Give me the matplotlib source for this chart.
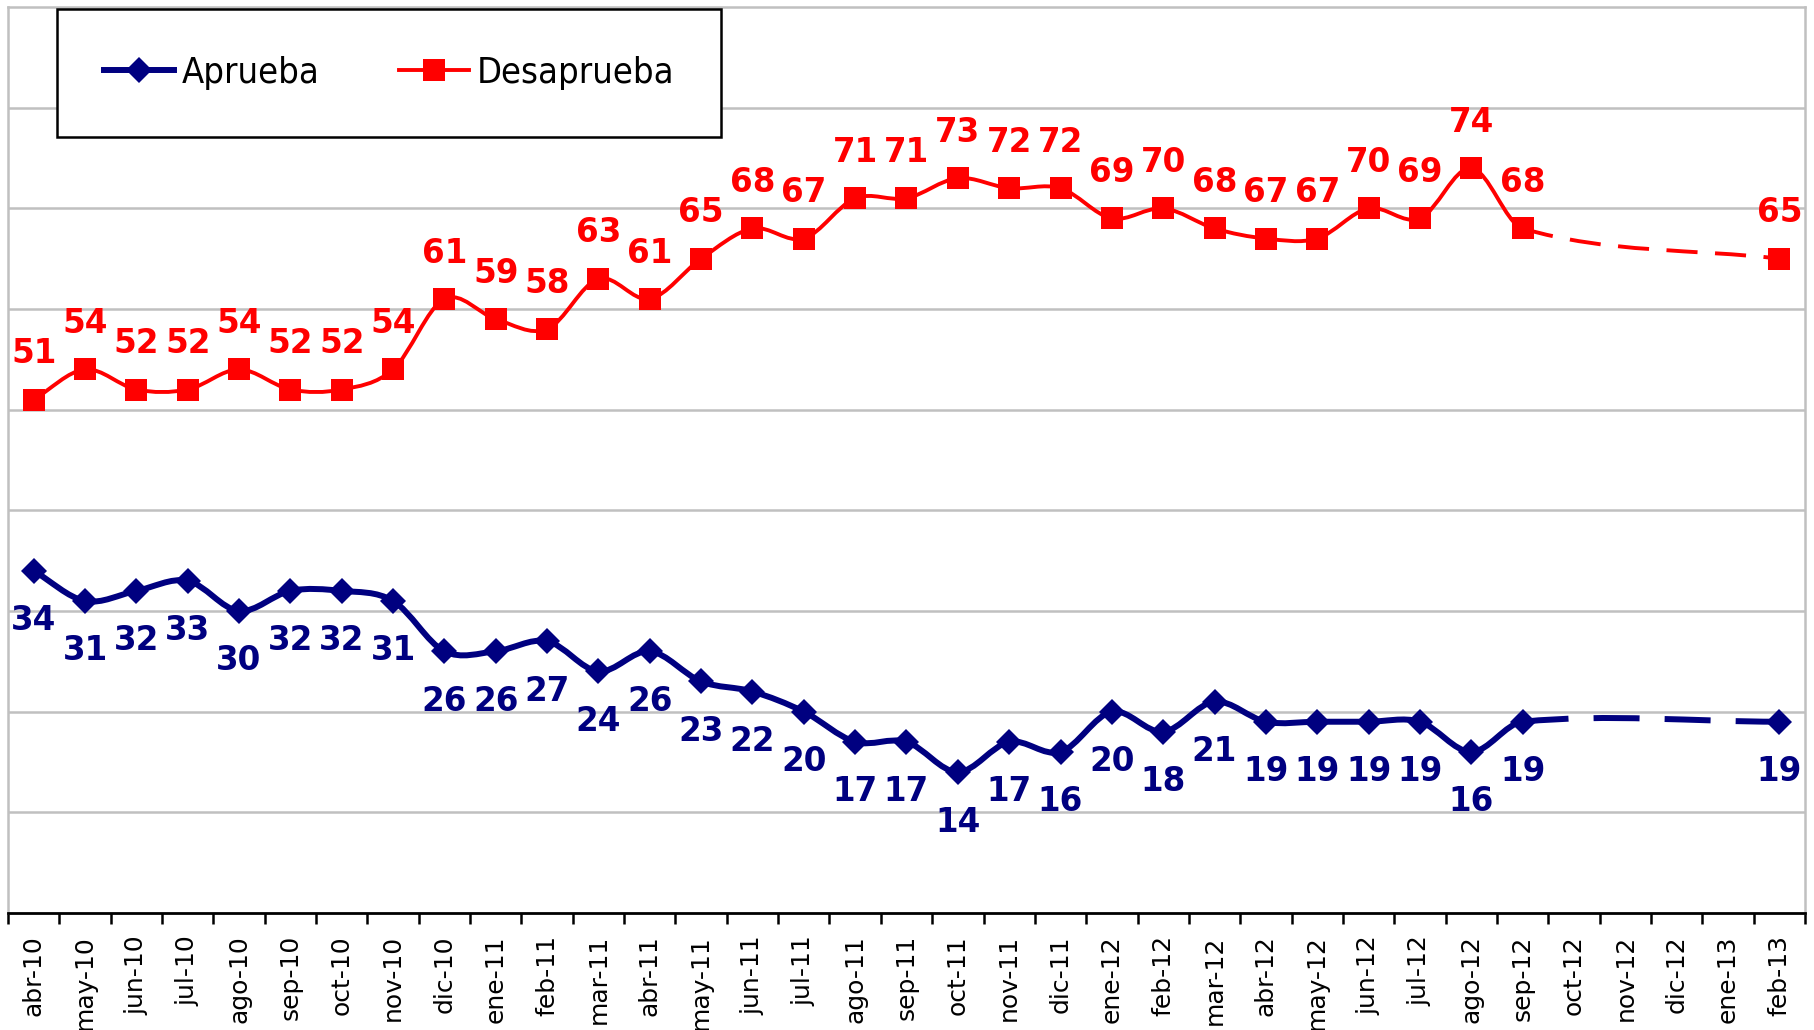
import matplotlib
matplotlib.use("Agg")
import matplotlib.pyplot as plt
import numpy as np
from matplotlib import font_manager
from matplotlib.path import Path
from matplotlib.patches import PathPatch
from matplotlib.lines import Line2D

# Meses del eje X
meses = ["abr-10", "may-10", "jun-10", "jul-10", "ago-10", "sep-10", "oct-10", "nov-10",
         "dic-10", "ene-11", "feb-11", "mar-11", "abr-11", "may-11", "jun-11", "jul-11",
         "ago-11", "sep-11", "oct-11", "nov-11", "dic-11", "ene-12", "feb-12", "mar-12",
         "abr-12", "may-12", "jun-12", "jul-12", "ago-12", "sep-12", "oct-12", "nov-12",
         "dic-12", "ene-13", "feb-13"]

# Meses con medicion (oct-12 a ene-13 sin dato)
medidos = meses[:30] + ["feb-13"]

aprueba = [34, 31, 32, 33, 30, 32, 32, 31, 26, 26, 27, 24, 26, 23, 22, 20, 17, 17, 14, 17,
           16, 20, 18, 21, 19, 19, 19, 19, 16, 19, 19]
desaprueba = [51, 54, 52, 52, 54, 52, 52, 54, 61, 59, 58, 63, 61, 65, 68, 67, 71, 71, 73, 72,
              72, 69, 70, 68, 67, 67, 70, 69, 74, 68, 65]

AZUL = "#000080"
ROJO = "#ff0000"
GRIS = "#c0c0c0"


def curva_suave(x, y):
    """Tramos Bezier con pendientes tipo Catmull-Rom (linea suavizada)."""
    x = np.asarray(x, float)
    y = np.asarray(y, float)
    n = len(x)
    m = np.zeros(n)
    for i in range(n):
        a, b = max(i - 1, 0), min(i + 1, n - 1)
        m[i] = (y[b] - y[a]) / (x[b] - x[a])
    tramos = []
    for i in range(n - 1):
        dx = (x[i + 1] - x[i]) / 3
        p1 = (x[i], y[i])
        c1 = (x[i] + dx, y[i] + m[i] * dx)
        c2 = (x[i + 1] - dx, y[i + 1] - m[i + 1] * dx)
        p2 = (x[i + 1], y[i + 1])
        tramos.append((p1, c1, c2, p2))
    return tramos


def camino(tramos):
    verts = [tramos[0][0]]
    codes = [Path.MOVETO]
    for _, c1, c2, p2 in tramos:
        verts += [c1, c2, p2]
        codes += [Path.CURVE4] * 3
    return Path(verts, codes)


def fuente_leyenda():
    # DejaVu Sans condensada si esta instalada
    for f in font_manager.fontManager.ttflist:
        if "DejaVuSansCondensed.ttf" in f.fname:
            return font_manager.FontProperties(fname=f.fname, size=26)
    return font_manager.FontProperties(family="DejaVu Sans", size=24)


fig = plt.figure(figsize=(18.14, 10.30), dpi=100)
ax = fig.add_axes([8 / 1814, 117 / 1030, 1797 / 1814, 906 / 1030])

xs = np.array([meses.index(m) for m in medidos])

series = [
    (aprueba, AZUL, "D", 13.5, 4.3, (7.7, 4.2), -36, "Aprueba"),
    (desaprueba, ROJO, "s", 16.5, 2.8, (8, 4.5), 33, "Desaprueba"),
]

handles = []
for vals, color, marker, ms, lw, dashes, dy, nombre in series:
    tramos = curva_suave(xs, vals)
    solido = camino(tramos[:-1])
    discontinuo = camino(tramos[-1:])
    ax.add_patch(PathPatch(solido, facecolor="none", edgecolor=color, lw=lw,
                           capstyle="round", joinstyle="round", zorder=3))
    ax.add_patch(PathPatch(discontinuo, facecolor="none", edgecolor=color, lw=lw,
                           linestyle=(0, dashes), capstyle="butt", zorder=3))
    ax.plot(xs, vals, linestyle="none", marker=marker, markersize=ms,
            color=color, markeredgewidth=0, zorder=4)
    for x, v in zip(xs, vals):
        ax.annotate(str(v), (x, v), xytext=(0, dy), textcoords="offset points",
                    ha="center", va="center", fontsize=23.5, fontweight="bold",
                    color=color, family="DejaVu Sans", zorder=5)
    handles.append(Line2D([], [], color=color, lw=lw, marker=marker,
                          markersize=ms * 0.95, markeredgewidth=0, label=nombre))

ax.set_xlim(-0.5, len(meses) - 0.5)
ax.set_ylim(0, 90)

# Rejilla horizontal
ax.set_yticks(np.arange(10, 90, 10))
ax.yaxis.grid(True, color=GRIS, lw=1.8)
ax.tick_params(axis="y", left=False, labelleft=False)
ax.set_axisbelow(True)

# Eje X: etiquetas en el centro, marcas entre meses
ax.set_xticks(np.arange(len(meses)))
ax.set_xticklabels(meses, rotation=90, family="DejaVu Sans", fontsize=18)
ax.set_xticks(np.arange(len(meses) + 1) - 0.5, minor=True)
ax.tick_params(axis="x", which="major", length=0, pad=16)
ax.tick_params(axis="x", which="minor", length=8, width=1.8, color="black",
               direction="out")

for lado in ["left", "top", "right"]:
    ax.spines[lado].set_color(GRIS)
    ax.spines[lado].set_linewidth(1.8)
ax.spines["bottom"].set_color("black")
ax.spines["bottom"].set_linewidth(2)

leg = ax.legend(handles=handles, ncol=2, loc="upper left",
                bbox_to_anchor=(0.0272, 0.998), borderaxespad=0,
                prop=fuente_leyenda(),
                frameon=True, fancybox=False, framealpha=1, edgecolor="black",
                borderpad=1.3, handlelength=1.95, handletextpad=0.2,
                columnspacing=2.2)
leg.get_frame().set_linewidth(1.8)

fig.savefig("out.png", dpi=100, facecolor="white")
